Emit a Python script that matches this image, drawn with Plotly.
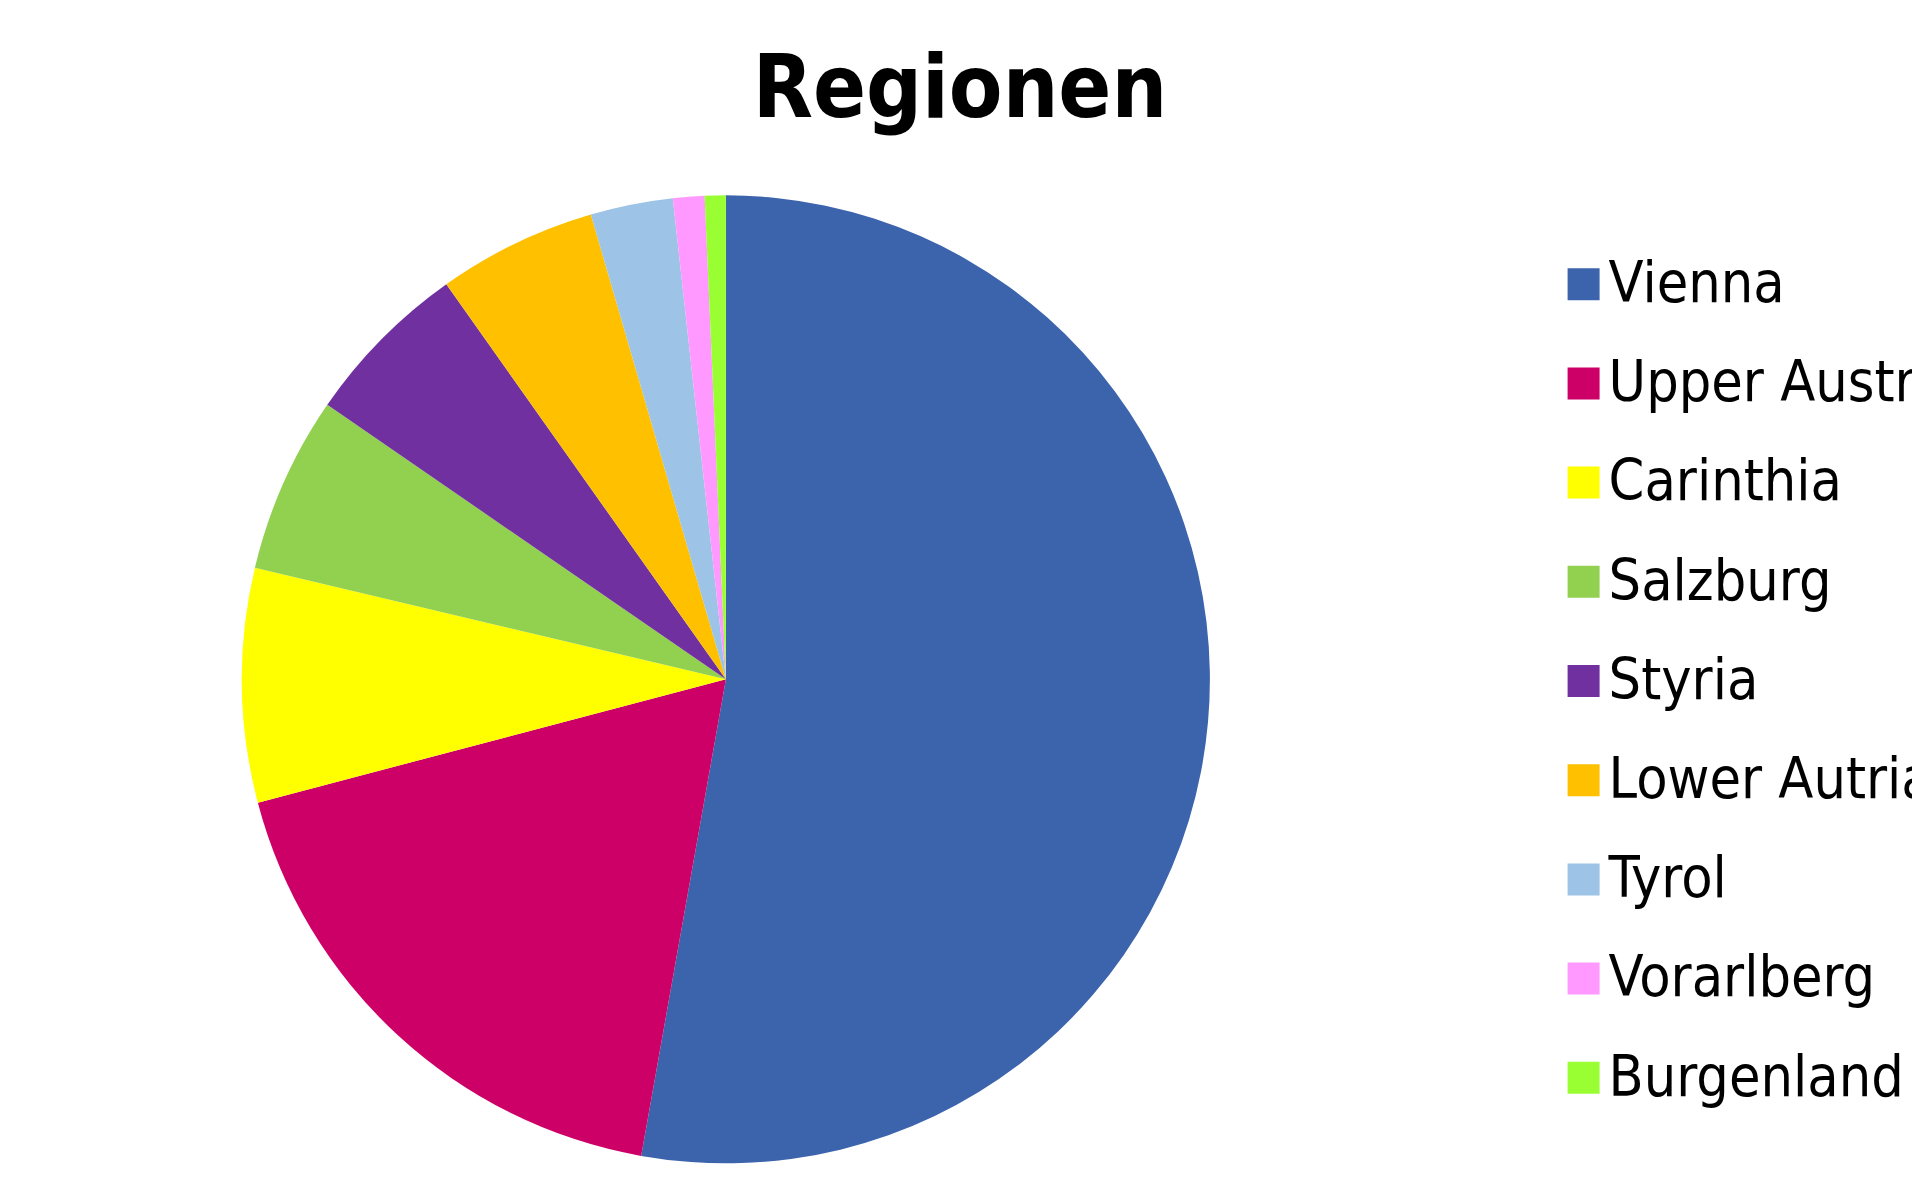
import plotly.graph_objects as go

# Regionen - Anteile (in %)
regions = ["Vienna", "Upper Austria", "Carinthia", "Salzburg", "Styria",
           "Lower Autria", "Tyrol", "Vorarlberg", "Burgenland"]
shares = [52.8, 18.1, 7.8, 5.9, 5.6, 5.3, 2.75, 1.05, 0.7]
colors = ["#3C64AC", "#CC0066", "#FFFF00", "#92D050", "#7030A0",
          "#FFC000", "#9DC3E6", "#FF99FF", "#99FF33"]

FONT = "DejaVu Sans Condensed, DejaVu Sans, Verdana, sans-serif"

# legend text smaller than the legend font so the rows keep the wide spacing
legend_labels = ["<span style='font-size:57px'>%s</span>" % r for r in regions]

fig = go.Figure()
fig.add_trace(go.Pie(
    labels=legend_labels,
    values=shares,
    sort=False,
    direction="clockwise",
    rotation=0,
    textinfo="none",
    hoverinfo="label+percent",
    marker=dict(colors=colors, line=dict(width=0)),
    domain=dict(x=[0.1218, 0.6260], y=[0.0372, 0.8439]),
))

fig.update_layout(
    width=1920, height=1200,
    paper_bgcolor="white", plot_bgcolor="white",
    margin=dict(l=0, r=0, t=0, b=0, autoexpand=False),
    title=dict(text="<b>Regionen</b>", x=0.4958, xanchor="center",
               y=0.9346, yanchor="middle",
               font=dict(family=FONT, size=87, color="black")),
    legend=dict(x=0.8076, xanchor="left", y=0.8245, yanchor="top",
                font=dict(family=FONT, size=74, color="black"),
                itemwidth=40, bgcolor="rgba(0,0,0,0)"),
    showlegend=True,
)

# bigger square legend keys like the original, lined up with the smaller text
post = """
document.querySelectorAll('path.legendpie').forEach(function(p){
  p.setAttribute('d', 'M16,27H-16V-5H16Z');
});
"""

fig.write_html("out.html", post_script=post)
